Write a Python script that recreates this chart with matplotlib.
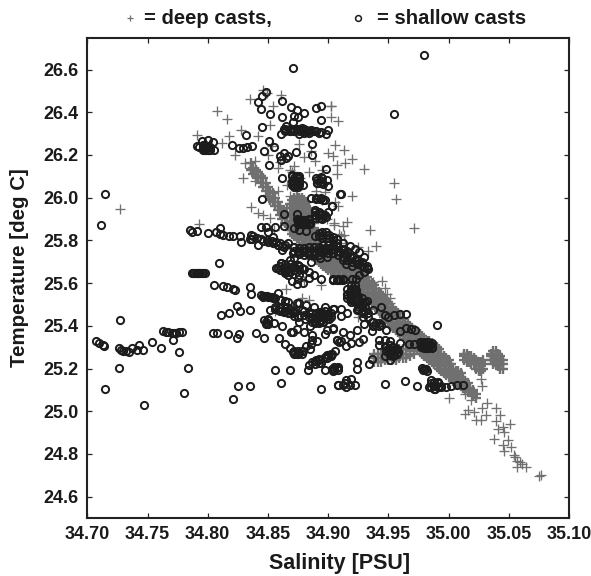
import matplotlib
matplotlib.use("Agg")
import matplotlib.pyplot as plt
from matplotlib.lines import Line2D

plt.rcParams['font.family'] = ['Liberation Sans', 'DejaVu Sans']

# ---------- deep casts: (salinity, [temperatures]) columns ----------
deep_band_lower = [
 (34.918,[25.62,25.64,25.66,25.68,25.70]),(34.920,[25.60,25.63,25.65,25.67,25.69]),(34.922,[25.59,25.61,25.64,25.66,25.68]),
 (34.924,[25.58,25.60,25.63,25.65,25.67]),(34.926,[25.57,25.59,25.62,25.64,25.66]),(34.928,[25.56,25.58,25.61,25.63,25.65]),
 (34.930,[25.55,25.57,25.60,25.62,25.64]),(34.932,[25.54,25.56,25.59,25.61,25.63]),(34.934,[25.52,25.54,25.57,25.59,25.61]),
 (34.936,[25.51,25.53,25.56,25.58,25.60]),(34.938,[25.50,25.52,25.55,25.57,25.59]),(34.940,[25.48,25.50,25.53,25.55,25.57]),
 (34.942,[25.47,25.49,25.52,25.54,25.56]),(34.944,[25.46,25.48,25.51,25.53,25.55]),(34.946,[25.44,25.46,25.49,25.51,25.53]),
 (34.948,[25.43,25.45,25.47,25.50,25.52]),(34.950,[25.42,25.44,25.46,25.49,25.51]),(34.952,[25.40,25.42,25.45,25.47,25.49]),
 (34.954,[25.39,25.41,25.44,25.46,25.48]),(34.956,[25.38,25.40,25.43,25.45,25.47]),(34.958,[25.37,25.39,25.41,25.44,25.46]),
 (34.960,[25.36,25.38,25.40,25.42,25.44]),(34.962,[25.35,25.37,25.39,25.41,25.43]),(34.964,[25.34,25.36,25.38,25.40,25.42]),
 (34.966,[25.33,25.35,25.37,25.39,25.41]),(34.968,[25.32,25.34,25.36,25.38,25.40]),(34.970,[25.31,25.33,25.35,25.37,25.39]),
 (34.972,[25.30,25.32,25.34,25.36,25.38]),(34.974,[25.29,25.31,25.33,25.35,25.37]),(34.976,[25.28,25.30,25.32,25.34,25.36]),
 (34.978,[25.27,25.29,25.31,25.33,25.35]),(34.980,[25.26,25.28,25.30,25.32,25.34]),(34.982,[25.25,25.27,25.29,25.31,25.33]),
 (34.984,[25.24,25.26,25.28,25.30,25.33]),(34.986,[25.23,25.25,25.27,25.29,25.32]),(34.988,[25.22,25.24,25.26,25.28,25.31]),
 (34.990,[25.21,25.23,25.25,25.27,25.30]),(34.992,[25.20,25.22,25.24,25.26,25.29]),(34.994,[25.19,25.21,25.23,25.25,25.27]),
 (34.996,[25.18,25.20,25.22,25.24,25.26]),(34.998,[25.17,25.19,25.21,25.23,25.25]),(35.000,[25.16,25.18,25.20,25.22,25.24]),
 (35.002,[25.16,25.18,25.20,25.22]),(35.004,[25.14,25.16,25.18,25.20]),(35.006,[25.13,25.15,25.17,25.19]),
 (35.008,[25.13,25.15,25.17,25.19]),(35.010,[25.12,25.14,25.16,25.18]),(35.012,[25.11,25.13,25.15]),
 (35.014,[25.10,25.12,25.14]),(35.016,[25.09,25.11,25.13]),(35.018,[25.09,25.11]),(35.020,[25.07,25.09,25.10]),(35.023,[25.06,25.08]),
]
deep_band_upper = [
 (34.836,[26.13,26.16]),(34.838,[26.11,26.14]),(34.840,[26.10,26.13]),(34.842,[26.09,26.12]),(34.844,[26.07,26.10]),
 (34.846,[26.05,26.09]),(34.848,[26.03,26.07]),(34.850,[26.01,26.05]),(34.852,[25.99,26.03]),(34.854,[25.98,26.02]),
 (34.856,[25.96,26.00]),(34.858,[25.94,25.98]),(34.860,[25.92,25.96]),(34.862,[25.90,25.94]),(34.864,[25.88,25.93]),
 (34.866,[25.87,25.91,25.95]),(34.868,[25.85,25.89,25.93,25.97]),
 (34.870,[25.83,25.85,25.87,25.89,25.91,25.93,25.95,25.97,25.99]),
 (34.872,[25.82,25.84,25.86,25.88,25.90,25.92,25.94,25.96,25.98,26.00]),
 (34.874,[25.81,25.83,25.85,25.87,25.89,25.91,25.93,25.95,25.97,25.99,26.01]),
 (34.876,[25.80,25.82,25.84,25.86,25.88,25.90,25.92,25.94,25.96,25.98,26.00]),
 (34.878,[25.78,25.80,25.82,25.84,25.86,25.88,25.90,25.92,25.94,25.96,25.98,26.00]),
 (34.880,[25.77,25.79,25.81,25.83,25.85,25.87,25.89,25.91,25.93,25.95,25.97,25.99]),
 (34.882,[25.76,25.78,25.80,25.82,25.84,25.86,25.88,25.90,25.92,25.94,25.96,25.98]),
 (34.884,[25.75,25.77,25.79,25.81,25.83,25.85,25.87,25.89,25.91,25.93,25.95]),
 (34.886,[25.74,25.76,25.78,25.80,25.82,25.84,25.86,25.88,25.90,25.92]),
 (34.888,[25.72,25.74,25.76,25.78,25.80,25.82,25.84,25.86,25.88]),
 (34.890,[25.71,25.73,25.75,25.77,25.79,25.81,25.83]),(34.892,[25.70,25.72,25.74,25.76,25.78,25.80]),
 (34.894,[25.69,25.71,25.73,25.75,25.77]),(34.896,[25.68,25.70,25.72,25.74,25.76]),(34.898,[25.67,25.69,25.71,25.73,25.75]),
 (34.900,[25.66,25.68,25.70,25.72,25.74]),(34.902,[25.65,25.67,25.69,25.71,25.73]),(34.904,[25.65,25.67,25.69,25.71,25.73]),
 (34.906,[25.64,25.66,25.68,25.70,25.72]),(34.908,[25.63,25.65,25.67,25.69,25.71]),(34.910,[25.63,25.65,25.67,25.69,25.71]),
 (34.912,[25.62,25.64,25.66,25.68,25.70]),(34.914,[25.62,25.64,25.66,25.68,25.70]),(34.916,[25.62,25.64,25.66,25.68,25.71]),
]
deep_side_strip = [
 (34.938,[25.23,25.25,25.27]),(34.941,[25.23,25.25,25.27]),(34.944,[25.23,25.25,25.27]),(34.947,[25.24,25.26,25.28]),
 (34.950,[25.24,25.26,25.28]),(34.953,[25.24,25.26,25.28]),(34.956,[25.24,25.26,25.28]),(34.959,[25.25,25.27,25.29]),
 (34.962,[25.25,25.27,25.29]),(34.965,[25.25,25.27,25.29]),(34.968,[25.26,25.28,25.30]),(34.971,[25.27,25.29,25.31]),
]
deep_blobs = [
 (35.013,[25.24,25.26,25.27]),(35.015,[25.23,25.25,25.27]),(35.017,[25.23,25.25,25.26]),(35.019,[25.22,25.24,25.26]),
 (35.021,[25.22,25.24,25.25]),(35.023,[25.20,25.22,25.24]),(35.025,[25.19,25.21,25.23]),(35.027,[25.19,25.21,25.23]),
 (35.029,[25.20,25.22,25.24]),(35.035,[25.24,25.26,25.27]),(35.037,[25.22,25.24,25.26,25.28]),(35.039,[25.22,25.24,25.26,25.28]),
 (35.041,[25.21,25.23,25.25,25.27]),(35.043,[25.20,25.22,25.24,25.26]),(35.045,[25.20,25.22,25.24]),
]
deep_tail_s = [35.000,35.014,35.019,35.027,35.028,35.032,35.028,35.039,35.031,35.021,35.016,35.014,
               35.023,35.027,35.043,35.039,35.051,35.041,35.045,35.046,35.038,35.049,35.045,35.052,
               35.046,35.054,35.057,35.055,35.061,35.057,35.064,35.059,35.075,35.077]
deep_tail_t = [25.063,25.082,25.054,25.152,25.120,25.038,25.016,25.016,24.980,24.996,25.007,24.985,
               24.957,24.957,24.980,24.954,24.941,24.918,24.926,24.905,24.871,24.866,24.844,24.832,
               24.813,24.793,24.769,24.785,24.753,24.738,24.738,24.760,24.696,24.702]
deep_scatter_s = [34.727,34.808,34.816,34.791,34.828,34.818,34.812,34.823,34.835,34.846,34.849,34.861,
                  34.854,34.902,34.852,34.842,34.831,34.839,34.835,34.829,34.843,34.839,34.836,34.842,
                  34.852,34.793,34.902,34.902,34.908,34.906,34.913,34.904,34.920,34.914,34.907,34.930,
                  34.907,34.955,34.956,34.920,34.971,34.908,34.906,34.916,34.912,34.935,34.913,34.911,
                  34.925,34.933,34.940,34.937,34.945,34.949,34.951,34.951,34.947,34.853,34.860,34.868,
                  34.880,34.889,34.895,34.884,34.872,34.866,34.858,34.870,34.877,34.890,34.897,34.886,
                  34.876,34.864,34.858,34.900,34.850,34.855,34.868,34.905,34.899,34.909,34.895,34.865,
                  34.856,34.884,34.878,34.871,34.862,34.905,34.914,34.846,34.880,34.894,34.925,34.928]
deep_scatter_t = [25.946,26.404,26.370,26.295,26.318,26.287,26.256,26.200,26.460,26.506,26.490,26.483,
                  26.430,26.430,26.340,26.287,26.160,26.170,26.140,26.090,26.107,26.076,25.957,25.927,
                  25.905,25.877,26.431,26.378,26.358,26.245,26.221,26.196,26.180,26.162,26.154,26.134,
                  26.112,26.068,25.995,26.009,25.858,25.959,25.980,25.884,25.865,25.849,25.826,25.821,
                  25.768,25.750,25.774,25.606,25.609,25.551,25.528,25.505,25.575,26.240,26.165,26.130,
                  26.190,26.170,26.130,26.120,26.150,26.060,26.030,26.120,26.090,26.030,26.025,26.220,
                  26.250,26.310,26.140,26.210,26.200,25.850,26.010,25.870,25.900,25.830,25.990,25.570,
                  25.470,25.520,25.530,25.480,25.470,25.880,25.790,25.920,25.610,25.590,25.440,25.500]

# ---------- shallow casts ----------
shallow_left_s = [34.707,34.710,34.713,34.714,34.715,34.726,34.726,34.727,34.728,34.730,34.732,34.735,
                  34.737,34.741,34.743,34.746,34.747,34.754,34.761,34.763,34.765,34.767,34.770,34.772,
                  34.774,34.776,34.779,34.771,34.776,34.780,34.784,34.715,34.711]
shallow_left_t = [25.329,25.320,25.309,25.307,25.104,25.298,25.202,25.429,25.285,25.282,25.282,25.276,
                  25.298,25.285,25.309,25.285,25.030,25.325,25.296,25.375,25.373,25.370,25.368,25.368,
                  25.368,25.370,25.369,25.332,25.278,25.084,25.204,26.015,25.872]
shallow_mid_s = [34.804,34.808,34.817,34.824,34.826,34.811,34.818,34.824,34.827,34.835,34.825,34.835,
                 34.821,34.805,34.813,34.816,34.821,34.823,34.835,34.836,34.840,34.847,34.856,34.861,
                 34.868,34.883,34.894,34.859,34.862,34.809,34.787,34.789,34.791,34.793,34.795,34.798]
shallow_mid_t = [25.368,25.368,25.362,25.343,25.362,25.450,25.461,25.494,25.467,25.472,25.120,25.116,
                 25.057,25.591,25.586,25.580,25.572,25.569,25.583,25.551,25.364,25.342,25.192,25.130,
                 25.193,25.193,25.104,25.345,25.398,25.696,25.645,25.645,25.645,25.645,25.645,25.645]
shallow_strip_s = [34.844,34.846,34.847,34.849,34.850,34.852,34.853,34.855,34.856,34.858,34.861,34.864,
                   34.867,34.852,34.856,34.858,34.863,34.867,34.871,34.875,34.881,34.847,34.850,34.848,
                   34.855,34.871,34.869,34.874,34.880,34.885,34.887,34.887,34.891,34.897,34.899,34.904,
                   34.864,34.868,34.871,34.874,34.876,34.879,34.882,34.885,34.886,34.884,34.887,34.890,
                   34.892,34.894,34.897,34.900,34.903,34.906,34.907,34.909,34.897,34.903,34.907,34.908,
                   34.874,34.876,34.882,34.888,34.897,34.905,34.878,34.884,34.890,34.893,34.887,34.890,
                   34.894,34.898,34.901,34.889,34.892,34.896,34.900,34.893,34.897,34.866,34.872,34.876]
shallow_strip_t = [25.542,25.540,25.539,25.538,25.536,25.534,25.533,25.531,25.530,25.555,25.520,25.517,
                   25.512,25.473,25.481,25.473,25.465,25.461,25.458,25.442,25.434,25.429,25.425,25.408,
                   25.411,25.371,25.371,25.384,25.371,25.398,25.356,25.335,25.329,25.360,25.379,25.392,
                   25.314,25.295,25.276,25.270,25.273,25.281,25.304,25.293,25.314,25.215,25.231,25.238,
                   25.246,25.228,25.254,25.262,25.270,25.282,25.335,25.325,25.195,25.200,25.202,25.124,
                   25.505,25.508,25.497,25.489,25.486,25.481,25.475,25.462,25.455,25.450,25.440,25.430,
                   25.425,25.440,25.430,25.415,25.412,25.418,25.445,25.465,25.468,25.490,25.445,25.420]
shallow_top_s = [34.871,34.845,34.848,34.842,34.844,34.852,34.845,34.862,34.869,34.874,34.880,34.862,
                 34.871,34.872,34.875,34.890,34.894,34.894,34.861,34.863,34.865,34.870,34.874,34.878,
                 34.882,34.886,34.890,34.894,34.898,34.900,34.832,34.868,34.872,34.876,34.880,34.884,
                 34.791,34.795,34.800,34.804,34.793,34.796,34.798,34.801,34.805,34.797,34.800,34.820,
                 34.826,34.829,34.833,34.837,34.847,34.851,34.855,34.860,34.863,34.867,34.861,34.865,
                 34.873,34.887,34.887,34.851,34.862,34.898,34.870,34.874,34.876,34.871,34.874,34.876,
                 34.872,34.875,34.879,34.890,34.894,34.899,34.891,34.896,34.900,34.845,34.886,34.890,
                 34.894,34.897,34.903,34.900,34.910,34.863,34.874,34.874,34.880,34.884,34.875,34.882,
                 34.885,34.889,34.893,34.897,34.889,34.895,34.911,34.903,34.955,34.980]
shallow_top_t = [26.605,26.478,26.495,26.447,26.416,26.392,26.329,26.452,26.425,26.412,26.397,26.378,
                 26.353,26.384,26.378,26.420,26.428,26.362,26.298,26.322,26.334,26.322,26.322,26.325,
                 26.318,26.315,26.311,26.306,26.300,26.318,26.295,26.310,26.310,26.300,26.305,26.305,
                 26.240,26.264,26.272,26.262,26.237,26.228,26.221,26.221,26.225,26.248,26.240,26.245,
                 26.231,26.233,26.237,26.243,26.218,26.267,26.237,26.193,26.209,26.196,26.178,26.185,
                 26.212,26.250,26.200,26.153,26.092,26.134,26.107,26.100,26.100,26.076,26.068,26.076,
                 26.052,26.052,26.060,26.090,26.098,26.085,26.070,26.065,26.055,25.995,25.998,25.998,
                 25.998,25.990,25.962,25.935,26.018,25.923,25.923,25.900,25.890,25.900,25.875,25.875,
                 25.878,25.940,25.930,25.920,25.920,25.900,26.018,25.962,26.390,26.666]
shallow_row_s = [34.785,34.787,34.791,34.800,34.807,34.810,34.810,34.813,34.818,34.821,34.827,34.828,
                 34.835,34.838,34.837,34.842,34.844,34.844,34.848,34.856,34.863,34.850,34.854,34.872,
                 34.876,34.882,34.849,34.853,34.857,34.860,34.864,34.862,34.858,34.861,34.864,34.867,
                 34.836,34.841,34.846,34.850,34.854,34.858,34.863,34.867,34.871,34.871,34.875,34.879,
                 34.883,34.888,34.892,34.897,34.901,34.905,34.910,34.914,34.918,34.922,34.926,34.930,
                 34.933,34.868,34.872,34.904,34.912,34.899,34.893,34.861,34.857,34.863,34.867,34.871,
                 34.875,34.878,34.876,34.884,34.874,34.894,34.904,34.908,34.912,34.923,34.923,34.918,
                 34.923,34.880,34.884,34.888,34.915,34.920,34.926,34.930,34.886,34.870,34.875,34.879]
shallow_row_t = [25.849,25.838,25.846,25.833,25.838,25.860,25.830,25.826,25.821,25.821,25.821,25.793,
                 25.805,25.821,25.805,25.779,25.805,25.861,25.861,25.861,25.866,25.838,25.818,25.857,
                 25.849,25.846,25.800,25.797,25.793,25.787,25.780,25.755,25.669,25.692,25.645,25.640,
                 25.826,25.810,25.799,25.794,25.790,25.779,25.771,25.787,25.771,25.740,25.747,25.747,
                 25.743,25.740,25.747,25.758,25.763,25.758,25.747,25.740,25.724,25.708,25.693,25.677,
                 25.664,25.708,25.716,25.740,25.708,25.724,25.716,25.693,25.669,25.661,25.653,25.677,
                 25.685,25.669,25.638,25.625,25.596,25.617,25.617,25.617,25.617,25.617,25.567,25.528,
                 25.520,25.665,25.650,25.640,25.690,25.680,25.640,25.650,25.700,25.610,25.620,25.600]
shallow_right_s = [34.904,34.908,34.912,34.920,34.918,34.922,34.919,34.924,34.916,34.929,34.926,34.932,
                   34.904,34.911,34.916,34.911,34.924,34.929,34.937,34.944,34.947,34.950,34.955,34.960,
                   34.965,34.990,34.930,34.936,34.940,34.944,34.948,34.936,34.924,34.912,34.918,34.904,
                   34.960,34.965,34.969,34.972,34.907,34.911,34.915,34.919,34.926,34.929,34.942,34.942,
                   34.947,34.951,34.947,34.951,34.947,34.951,34.950,34.953,34.956,34.951,34.955,34.958,
                   34.960,34.967,34.971,34.976,34.979,34.982,34.985,34.978,34.982,34.986,34.980,34.978,
                   34.982,34.924,34.924,34.936,34.934,34.905,34.908,34.915,34.919,34.915,34.922,34.912,
                   34.918,34.947,34.964,34.974,34.985,34.984,34.988,34.991,34.989,34.994,34.998,35.002,
                   35.007,35.012,34.912,34.918,34.922,34.926,34.930]
shallow_right_t = [25.614,25.614,25.614,25.617,25.559,25.559,25.520,25.530,25.545,25.505,25.490,25.515,
                   25.481,25.477,25.461,25.447,25.473,25.465,25.476,25.486,25.450,25.442,25.450,25.454,
                   25.457,25.403,25.410,25.418,25.414,25.403,25.379,25.375,25.382,25.371,25.356,25.387,
                   25.376,25.392,25.387,25.382,25.335,25.329,25.304,25.320,25.325,25.340,25.335,25.309,
                   25.332,25.329,25.304,25.285,25.257,25.238,25.290,25.300,25.285,25.262,25.265,25.275,
                   25.320,25.313,25.316,25.325,25.300,25.325,25.310,25.310,25.295,25.295,25.196,25.203,
                   25.190,25.231,25.200,25.246,25.223,25.200,25.124,25.145,25.152,25.113,25.124,25.124,
                   25.124,25.126,25.141,25.118,25.145,25.113,25.121,25.137,25.105,25.113,25.113,25.118,
                   25.121,25.124,25.790,25.775,25.760,25.745,25.720]
# solid black clumps, where circles pile up: (salinity, [temperatures])
shallow_clumps = [
 (34.788,[25.645]),(34.790,[25.645]),(34.792,[25.645]),(34.794,[25.645]),(34.796,[25.645]),
 (34.796,[26.225,26.235,26.245]),(34.798,[26.225,26.235,26.245]),(34.800,[26.225,26.235]),(34.802,[26.225,26.235]),
 (34.864,[26.31,26.32]),(34.868,[26.31,26.32]),(34.872,[26.31,26.32]),(34.876,[26.31,26.32]),(34.880,[26.31,26.32]),
 (34.884,[26.31]),(34.888,[26.31]),(34.892,[26.305]),
 (34.870,[26.06,26.08,26.10]),(34.872,[26.06,26.07,26.09]),(34.874,[26.06,26.08,26.09]),(34.876,[26.06,26.07,26.09]),
 (34.891,[26.07,26.085]),(34.893,[26.07,26.085]),(34.895,[26.075,26.09]),
 (34.890,[25.995]),(34.893,[25.995]),(34.896,[25.99]),
 (34.875,[25.875,25.885,25.895]),(34.878,[25.875,25.885,25.895]),(34.881,[25.875,25.885,25.895]),(34.884,[25.88,25.895]),
 (34.889,[25.905,25.92,25.935]),(34.892,[25.905,25.92,25.935]),(34.895,[25.905,25.92]),(34.898,[25.91]),
 (34.889,[25.82]),(34.892,[25.82,25.835]),(34.895,[25.81,25.825,25.84]),(34.898,[25.81,25.825,25.84]),(34.901,[25.81,25.825]),
 (34.904,[25.80,25.815]),(34.907,[25.79,25.805]),
 (34.858,[25.78]),(34.862,[25.775]),(34.872,[25.75,25.77]),(34.876,[25.735,25.75,25.765]),(34.880,[25.73,25.75,25.765]),
 (34.884,[25.73,25.75,25.77]),(34.888,[25.73,25.75,25.77]),(34.892,[25.73,25.75,25.77]),(34.896,[25.74,25.76,25.78]),
 (34.900,[25.74,25.76,25.78]),(34.904,[25.74,25.76,25.78]),(34.908,[25.73,25.75,25.77]),(34.912,[25.72,25.74,25.76]),
 (34.916,[25.71,25.73,25.75]),(34.920,[25.70,25.72]),(34.924,[25.69,25.71]),(34.928,[25.68,25.70]),(34.932,[25.67,25.68]),
 (34.860,[25.66,25.68]),(34.864,[25.65,25.67,25.69]),(34.868,[25.65,25.67,25.69]),(34.872,[25.66,25.68]),(34.876,[25.66,25.68]),
 (34.904,[25.615]),(34.907,[25.615]),(34.910,[25.615]),
 (34.916,[25.53,25.55,25.57]),(34.919,[25.51,25.53,25.55,25.57,25.59]),(34.922,[25.51,25.53,25.55,25.57,25.59]),
 (34.925,[25.48,25.50,25.52,25.54]),(34.928,[25.47,25.49,25.51,25.53]),(34.931,[25.47,25.49,25.51]),
 (34.846,[25.536]),(34.848,[25.538]),(34.851,[25.535]),(34.854,[25.532]),(34.860,[25.523]),
 (34.856,[25.49]),(34.860,[25.47,25.485]),(34.864,[25.47,25.485]),(34.868,[25.46,25.48]),(34.872,[25.46,25.47]),
 (34.887,[25.42,25.44,25.46]),(34.890,[25.42,25.44,25.46]),(34.893,[25.42,25.44,25.46]),(34.896,[25.42,25.44,25.46]),
 (34.899,[25.43,25.45]),(34.884,[25.44,25.46]),(34.880,[25.45,25.47]),(34.902,[25.44,25.46]),
 (34.848,[25.42]),(34.850,[25.43,25.41]),
 (34.872,[25.27,25.28]),(34.875,[25.27,25.28]),(34.878,[25.27,25.28]),
 (34.889,[25.22,25.235]),(34.892,[25.225,25.24]),(34.899,[25.25,25.265]),(34.902,[25.26,25.27]),
 (34.905,[25.195,25.205]),(34.908,[25.195,25.205]),(34.904,[25.19]),(34.914,[25.13]),
 (34.948,[25.28,25.30]),(34.951,[25.27,25.29,25.31]),(34.954,[25.26,25.28,25.30]),(34.957,[25.27,25.29]),
 (34.977,[25.30,25.32]),(34.980,[25.295,25.31,25.325]),(34.983,[25.295,25.31,25.325]),(34.986,[25.30,25.32]),
 (34.980,[25.196]),(34.981,[25.20]),(34.979,[25.192]),
 (34.985,[25.115,25.13]),(34.988,[25.105,25.12,25.135]),(34.991,[25.115,25.13]),(34.994,[25.12]),
 (34.929,[25.44,25.46]),(34.933,[25.44,25.46]),(34.937,[25.40,25.42]),(34.942,[25.40,25.415]),
]

tick_x = [34.70,34.75,34.80,34.85,34.90,34.95,35.00,35.05,35.10]
tick_y = [24.6,24.8,25.0,25.2,25.4,25.6,25.8,26.0,26.2,26.4,26.6]

DEEP = '#707070'
DARK = '#1c1c1c'

W, H = 591, 576
fig = plt.figure(figsize=(W/100, H/100), dpi=100, facecolor='white')
ax = fig.add_axes([87.3/W, (H-518)/H, 481.7/W, 480.5/H])

band_s, band_t = [], []
for block in (deep_band_lower, deep_band_upper, deep_side_strip, deep_blobs):
    for s, temps in block:
        for t in temps:
            band_s.append(s)
            band_t.append(t)
ax.plot(band_s, band_t, ls='none', marker='+', ms=7, mew=1.7, color=DEEP, zorder=2)
ax.plot(deep_tail_s + deep_scatter_s, deep_tail_t + deep_scatter_t, ls='none', marker='+', ms=6.5, mew=0.95, color=DEEP, zorder=2)

shallow_s = shallow_left_s + shallow_mid_s + shallow_strip_s + shallow_top_s + shallow_row_s + shallow_right_s
shallow_t = shallow_left_t + shallow_mid_t + shallow_strip_t + shallow_top_t + shallow_row_t + shallow_right_t
for s, temps in shallow_clumps:
    for t in temps:
        shallow_s.append(s)
        shallow_t.append(t)
ax.plot(shallow_s, shallow_t, ls='none', marker='o', ms=5.2, mew=1.4, mfc='none', mec=DARK, zorder=3)

ax.set_xlim(34.70, 35.10)
ax.set_ylim(24.5, 26.75)
ax.set_xticks(tick_x)
ax.set_xticklabels([f'{v:.2f}' for v in tick_x])
ax.set_yticks(tick_y)
ax.set_yticklabels([f'{v:.1f}' for v in tick_y])
ax.tick_params(direction='in', top=True, right=True, length=3.5, width=0.9, color='#222222',
               labelsize=13, pad=6, labelcolor='#1a1a1a')
for lab in ax.get_xticklabels() + ax.get_yticklabels():
    lab.set_fontweight('bold')
for sp in ax.spines.values():
    sp.set_linewidth(1.5)
    sp.set_color('#222222')

fig.text(340/W, 1-563/H, 'Salinity [PSU]', ha='center', va='center', fontsize=15.5, fontweight='bold', color='#1a1a1a')
fig.text(20/W, 1-268/H, 'Temperature [deg C]', ha='center', va='center', rotation=90, fontsize=14.8, fontweight='bold', color='#1a1a1a')

fig.text(144/W, 1-18/H, '= deep casts,', ha='left', va='center', fontsize=14.6, fontweight='bold', color='#1a1a1a')
fig.text(377/W, 1-18/H, '= shallow casts', ha='left', va='center', fontsize=14.6, fontweight='bold', color='#1a1a1a')
fig.add_artist(Line2D([130/W], [1-18/H], transform=fig.transFigure, marker='+', ms=4.5, mew=0.9, color=DEEP, ls='none'))
fig.add_artist(Line2D([358/W], [1-18/H], transform=fig.transFigure, marker='o', ms=4.2, mew=1.1, mfc='none', mec=DARK, ls='none'))

fig.savefig('out.png', dpi=100, facecolor='white')
